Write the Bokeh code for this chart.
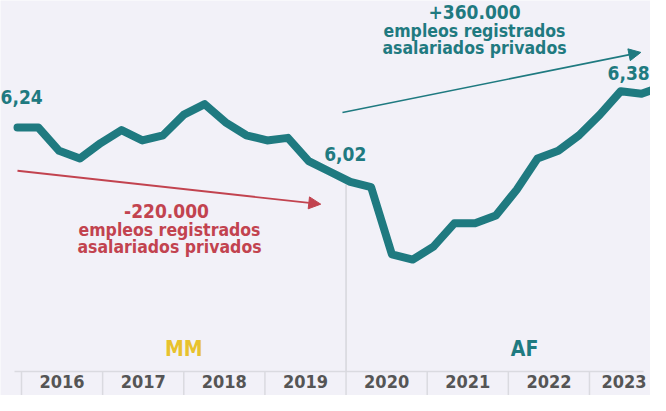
from bokeh.plotting import figure
from bokeh.models import Range1d, Label, Arrow, NormalHead, ColumnDataSource
from bokeh.embed import file_html
from bokeh.resources import INLINE

# ---------------- data ----------------
trimestres = ["2015-T4",
              "2016-T1", "2016-T2", "2016-T3", "2016-T4",
              "2017-T1", "2017-T2", "2017-T3", "2017-T4",
              "2018-T1", "2018-T2", "2018-T3", "2018-T4",
              "2019-T1", "2019-T2", "2019-T3", "2019-T4",
              "2020-T1", "2020-T2", "2020-T3", "2020-T4",
              "2021-T1", "2021-T2", "2021-T3", "2021-T4",
              "2022-T1", "2022-T2", "2022-T3", "2022-T4",
              "2023-T1", "2023-T2", "2023-T3"]
empleo = [6.24,
          6.24, 6.15, 6.12, 6.18,
          6.23, 6.19, 6.21, 6.29,
          6.33, 6.26, 6.21, 6.19,
          6.20, 6.11, 6.07, 6.03,
          6.01, 5.75, 5.73, 5.78,
          5.87, 5.87, 5.90, 6.00,
          6.12, 6.15, 6.21, 6.29,
          6.38, 6.37, 6.40]
anios = ["2016", "2017", "2018", "2019", "2020", "2021", "2022", "2023"]
etiquetas = [("6,24", 0), ("6,02", 16), ("6,38", 29)]
gobiernos = ["MM", "AF"]
cambio_gob = "2020"
texto_baja = ["-220.000", "empleos registrados", "asalariados privados"]
texto_suba = ["+360.000", "empleos registrados", "asalariados privados"]

def fecha(tq):
    y, q = tq.split("-T")
    return int(y) + int(q) / 4.0

fechas = [fecha(t) for t in trimestres]

# ---------------- style ----------------
BG = "#f2f1f8"
TEAL = "#1f7a80"
RED = "#c2434f"
YELLOW = "#e8c22e"
GRAYTXT = "#555555"
GRID = "#dadae0"
FONT = "DejaVu Sans Condensed"
LIFT = 7  # px, compensates the renderer's text baseline placement

p = figure(width=650, height=395,
           x_range=Range1d(2015.7957, 2023.6082),
           y_range=Range1d(5.2053, 6.7303),
           output_backend="svg", toolbar_location=None,
           x_axis_location=None, y_axis_location=None,
           min_border=0, background_fill_color=BG, border_fill_color=BG,
           outline_line_color=None)
p.grid.visible = False
p.extra_x_ranges = {"eje": Range1d(2015.7412, 2023.752)}


def label(x, y, txt, color, size, align="center", dx=0, dy=0, rng="default"):
    p.add_layout(Label(x=x, y=y, x_offset=dx, y_offset=dy + LIFT, text=txt,
                       x_range_name=rng, text_align=align, text_baseline="alphabetic",
                       text_font=FONT, text_font_style="bold", text_font_size=size,
                       text_color=color))


# ---------------- axis band ----------------
eje_y = 5.2979
fondo_y = 5.10
bordes = [int(a) for a in anios]
p.segment(x0=[2015.914], y0=[eje_y], x1=[2023.666], y1=[eje_y],
          line_color=GRID, line_width=1.5, x_range_name="eje")
p.segment(x0=bordes, y0=[eje_y] * len(bordes), x1=bordes, y1=[fondo_y] * len(bordes),
          line_color=GRID, line_width=1.5, x_range_name="eje")
# government change divider
p.segment(x0=[int(cambio_gob)], y0=[6.02], x1=[int(cambio_gob)], y1=[eje_y],
          line_color="#d6d6dc", line_width=1.5, x_range_name="eje")

for k, (b, a) in enumerate(zip(bordes, anios)):
    shift = -6 if k == len(anios) - 1 else 0  # keep the last year inside the frame
    label(b + 0.5, 5.2323, a, GRAYTXT, "18px", dx=shift, rng="eje")

label(2018.0, 5.3597, gobiernos[0], YELLOW, "21px", rng="eje")
label(2022.2, 5.3597, gobiernos[1], TEAL, "21px", rng="eje")

# ---------------- arrows ----------------
p.add_layout(Arrow(x_start=2016.0, y_start=6.073, x_end=2019.645, y_end=5.944,
                   line_color=RED, line_width=1.8,
                   end=NormalHead(size=12, fill_color=RED, line_color=RED, line_width=1)))
p.add_layout(Arrow(x_start=2019.906, y_start=6.298, x_end=2023.492, y_end=6.53,
                   line_color=TEAL, line_width=1.6,
                   end=NormalHead(size=12, fill_color=TEAL, line_color=TEAL, line_width=1)))

# ---------------- main line ----------------
src = ColumnDataSource(dict(fecha=fechas, empleo=empleo))
p.line(x="fecha", y="empleo", source=src, line_width=8, line_color=TEAL,
       line_cap="round", line_join="round")

# ---------------- value labels ----------------
offs = {0: (-17, 23, "left"), 16: (-5, 21, "center"), 29: (29, 11, "right")}
for txt, i in etiquetas:
    dx, dy, al = offs[i]
    label(fechas[i], empleo[i], txt, TEAL, "19px", align=al, dx=dx, dy=dy)

# ---------------- text blocks ----------------
for txt, x, y, size in zip(texto_baja, [2017.791, 2017.827, 2017.827],
                           [5.8925, 5.8191, 5.7516], ["19px", "17.5px", "17.5px"]):
    label(x, y, txt, RED, size)
for txt, x, y, size in zip(texto_suba, [2021.493] * 3,
                           [6.658, 6.5856, 6.518], ["19px", "17.5px", "17.5px"]):
    label(x, y, txt, TEAL, size)

open("out.html", "w").write(file_html(p, INLINE))
